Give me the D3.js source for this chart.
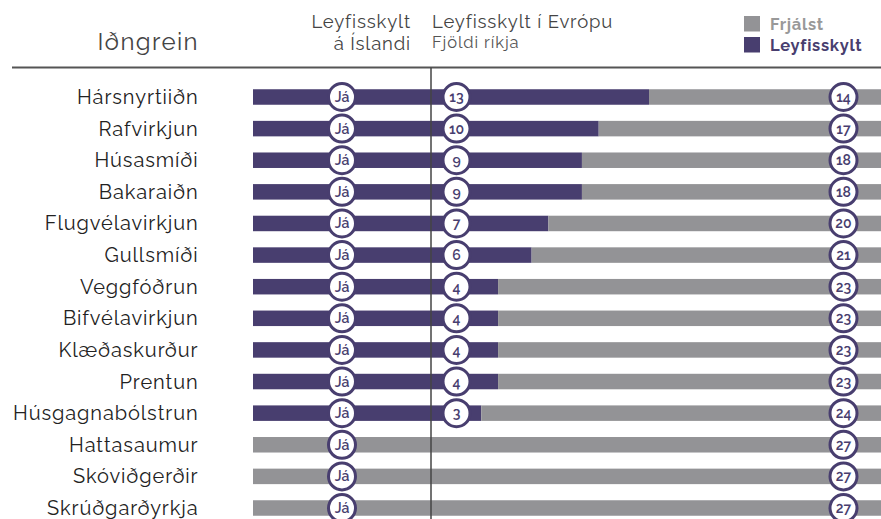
<!DOCTYPE html>
<html lang="is">
<meta charset="utf-8">
<title>Leyfisskyldar iðngreinar</title>
<head>
  <style>
    body { margin: 0; background: #fff; }
    text { font-family: Raleway, Lato, "Open Sans", sans-serif; }
  </style>
</head>
<body>
  <script src="https://d3js.org/d3.v7.min.js"></script>
  <div id="chart"></div>
  <script>
    // data
    var categories = ["Hársnyrtiiðn", "Rafvirkjun", "Húsasmíði", "Bakaraiðn", "Flugvélavirkjun",
      "Gullsmíði", "Veggfóðrun", "Bifvélavirkjun", "Klæðaskurður", "Prentun",
      "Húsgagnabólstrun", "Hattasaumur", "Skóviðgerðir", "Skrúðgarðyrkja"];
    var icelandLabel = ["Já", "Já", "Já", "Já", "Já", "Já", "Já", "Já", "Já", "Já", "Já", "Já", "Já", "Já"];
    var icelandRequired = [true, true, true, true, true, true, true, true, true, true, true, false, false, false];
    var europeRequired = [13, 10, 9, 9, 7, 6, 4, 4, 4, 4, 3, 0, 0, 0];
    var totalCountries = 27;

    var purple = "#483e6f", grey = "#939396";

    var width = 881, height = 519;
    var svg = d3.select("#chart").append("svg")
      .attr("width", width).attr("height", height);

    var rows = categories.map(function (c, i) {
      return { name: c, is: icelandLabel[i], isReq: icelandRequired[i], req: europeRequired[i], free: totalCountries - europeRequired[i] };
    });

    var y = d3.scalePoint().domain(categories).range([97, 508]);
    var barH = 15.5;
    var xIs = d3.scaleLinear().domain([0, 1]).range([253, 431]);
    var xEu = d3.scaleLinear().domain([0, totalCountries]).range([431, 431 + totalCountries * 16.77]);

    // header
    svg.append("text").attr("x", 199).attr("y", 50).attr("text-anchor", "end")
      .attr("font-size", 24).attr("fill", "#444").attr("letter-spacing", 1.4).text("Iðngrein");
    svg.append("text").attr("x", 411).attr("y", 28).attr("text-anchor", "end")
      .attr("font-size", 18.5).attr("fill", "#444").attr("letter-spacing", 0.85).text("Leyfisskylt");
    svg.append("text").attr("x", 411).attr("y", 50).attr("text-anchor", "end")
      .attr("font-size", 18.5).attr("fill", "#444").attr("letter-spacing", 0.85).text("á Íslandi");
    svg.append("text").attr("x", 432).attr("y", 28)
      .attr("font-size", 18.5).attr("fill", "#444").attr("letter-spacing", 0.85).text("Leyfisskylt í Evrópu");
    svg.append("text").attr("x", 432).attr("y", 48)
      .attr("font-size", 16.5).attr("fill", "#555").attr("letter-spacing", 0.9).text("Fjöldi ríkja");

    // legend
    var legend = [{ label: "Frjálst", color: grey, text: "#999" }, { label: "Leyfisskylt", color: purple, text: purple }];
    var lg = svg.selectAll(".legend").data(legend).enter().append("g")
      .attr("transform", function (d, i) { return "translate(744," + (16 + i * 21) + ")"; });
    lg.append("rect").attr("width", 16).attr("height", 15.5).attr("fill", function (d) { return d.color; });
    lg.append("text").attr("x", 26).attr("y", 14).attr("font-size", 16.5).attr("font-weight", 700)
      .attr("letter-spacing", 0.7)
      .attr("fill", function (d) { return d.text; }).text(function (d) { return d.label; });

    // rules
    svg.append("line").attr("x1", 12).attr("x2", width).attr("y1", 67.5).attr("y2", 67.5)
      .attr("stroke", "#555").attr("stroke-width", 2);

    var row = svg.selectAll(".row").data(rows).enter().append("g")
      .attr("transform", function (d) { return "translate(0," + y(d.name) + ")"; });

    row.append("text").attr("x", 198.5).attr("y", 7).attr("text-anchor", "end")
      .attr("font-size", 20).attr("letter-spacing", 0.9)
      .attr("fill", "#222").text(function (d) { return d.name; });

    // Iceland column
    row.append("rect").attr("x", xIs(0)).attr("y", -barH / 2)
      .attr("width", xIs(1) - xIs(0)).attr("height", barH)
      .attr("fill", function (d) { return d.isReq ? purple : grey; });

    // Europe column
    row.append("rect").attr("x", xEu(0)).attr("y", -barH / 2)
      .attr("width", function (d) { return xEu(d.req) - xEu(0); }).attr("height", barH)
      .attr("fill", purple);
    row.append("rect").attr("x", function (d) { return xEu(d.req); }).attr("y", -barH / 2)
      .attr("width", function (d) { return xEu(totalCountries) - xEu(d.req); }).attr("height", barH)
      .attr("fill", grey);

    function badge(sel, cx, label) {
      var g = sel.append("g").attr("transform", "translate(" + cx + ",0)");
      g.append("circle").attr("r", 13.5).attr("fill", "#fff").attr("stroke", purple).attr("stroke-width", 3);
      g.append("text").attr("y", 5).attr("text-anchor", "middle").attr("font-size", 14)
        .attr("font-weight", 600).attr("fill", purple).text(label);
    }
    row.each(function (d) {
      var s = d3.select(this);
      badge(s, (xIs(0) + xIs(1)) / 2, d.is);
      if (d.req > 0) badge(s, 456.5, d.req);
      badge(s, 843.5, d.free);
    });

    svg.append("line").attr("x1", 431).attr("x2", 431).attr("y1", 67.5).attr("y2", height)
      .attr("stroke", "#444").attr("stroke-width", 1.5);
  </script>
</body>
</html>
